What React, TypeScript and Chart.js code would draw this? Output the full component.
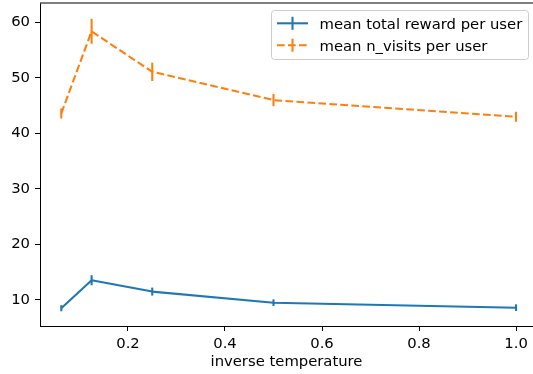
import { useEffect, useRef } from "react";
import { Chart, registerables } from "chart.js";

Chart.register(...registerables);

// ---- data ----
const inverseTemperature = [0.0625, 0.125, 0.25, 0.5, 1.0];
const rewardMean = [8.5, 13.55, 11.5, 9.5, 8.6];
const rewardErr = [0.55, 0.9, 0.72, 0.6, 0.6];
const visitsMean = [43.6, 58.4, 51.1, 46.0, 43.0];
const visitsErr = [0.9, 2.25, 1.65, 1.1, 0.9];
const xTickValues = [0.2, 0.4, 0.6, 0.8, 1.0];
const yTickValues = [10, 20, 30, 40, 50, 60];
const seriesLabels = ["mean total reward per user", "mean n_visits per user"];
const xAxisTitle = "inverse temperature";

const BLUE = "#1f77b4";
const ORANGE = "#ff7f0e";
const FONT = '"DejaVu Sans", "Liberation Sans", sans-serif';
const FONT_SIZE = 14.8;
const LINE_W = 2.08;
const DASH = [7.7, 3.3];

const errorBarPlugin = {
  id: "errorBars",
  afterDatasetsDraw(chart: any) {
    const ctx = chart.ctx;
    const xs = chart.scales.x;
    const ys = chart.scales.y;
    chart.data.datasets.forEach((ds: any) => {
      const errs: number[] = ds.errors || [];
      ctx.save();
      ctx.strokeStyle = ds.borderColor;
      ctx.lineWidth = LINE_W;
      ctx.setLineDash([]);
      ds.data.forEach((p: any, i: number) => {
        const e = errs[i] || 0;
        const px = xs.getPixelForValue(p.x);
        ctx.beginPath();
        ctx.moveTo(px, ys.getPixelForValue(p.y - e));
        ctx.lineTo(px, ys.getPixelForValue(p.y + e));
        ctx.stroke();
      });
      ctx.restore();
    });
  },
};

const framePlugin = {
  id: "frameAndLegend",
  afterDraw(chart: any) {
    const ctx = chart.ctx;
    const area = chart.chartArea;
    ctx.save();
    // top spine (partially cropped in reference)
    ctx.strokeStyle = "#555";
    ctx.lineWidth = 1.6;
    ctx.beginPath();
    ctx.moveTo(area.left, area.top);
    ctx.lineTo(area.right, area.top);
    ctx.stroke();

    // legend box
    const bx = 271.5, by = 10.5, bw = 257, bh = 49, r = 3;
    ctx.beginPath();
    ctx.moveTo(bx + r, by);
    ctx.lineTo(bx + bw - r, by);
    ctx.arcTo(bx + bw, by, bx + bw, by + r, r);
    ctx.lineTo(bx + bw, by + bh - r);
    ctx.arcTo(bx + bw, by + bh, bx + bw - r, by + bh, r);
    ctx.lineTo(bx + r, by + bh);
    ctx.arcTo(bx, by + bh, bx, by + bh - r, r);
    ctx.lineTo(bx, by + r);
    ctx.arcTo(bx, by, bx + r, by, r);
    ctx.closePath();
    ctx.fillStyle = "rgba(255,255,255,0.8)";
    ctx.fill();
    ctx.strokeStyle = "#cccccc";
    ctx.lineWidth = 1;
    ctx.stroke();

    const rows = [23.3, 45.2];
    const hx0 = 277, hx1 = 308;
    chart.data.datasets.forEach((ds: any, i: number) => {
      const y = rows[i];
      ctx.strokeStyle = ds.borderColor;
      ctx.lineWidth = LINE_W;
      ctx.setLineDash(ds.borderDash || []);
      ctx.beginPath();
      ctx.moveTo(hx0, y);
      ctx.lineTo(hx1, y);
      ctx.stroke();
      ctx.setLineDash([]);
      ctx.beginPath();
      const cx = (hx0 + hx1) / 2;
      ctx.moveTo(cx, y - 6.5);
      ctx.lineTo(cx, y + 6.5);
      ctx.stroke();
      ctx.fillStyle = "#000";
      ctx.font = `${FONT_SIZE}px ${FONT}`;
      ctx.textBaseline = "alphabetic";
      ctx.textAlign = "left";
      ctx.fillText(ds.label, 319.5, y + 5.5);
    });
    ctx.restore();
  },
};

export default function App() {
  const canvasRef = useRef<HTMLCanvasElement | null>(null);

  useEffect(() => {
    if (!canvasRef.current) return;
    const chart = new Chart(canvasRef.current, {
      type: "line",
      data: {
        datasets: [
          {
            label: seriesLabels[0],
            data: inverseTemperature.map((x, i) => ({ x, y: rewardMean[i] })),
            errors: rewardErr,
            borderColor: BLUE,
            backgroundColor: BLUE,
            borderWidth: LINE_W,
            borderJoinStyle: "round",
            pointRadius: 0,
            tension: 0,
            fill: false,
          } as any,
          {
            label: seriesLabels[1],
            data: inverseTemperature.map((x, i) => ({ x, y: visitsMean[i] })),
            errors: visitsErr,
            borderColor: ORANGE,
            backgroundColor: ORANGE,
            borderWidth: LINE_W,
            borderDash: DASH,
            borderJoinStyle: "round",
            pointRadius: 0,
            tension: 0,
            fill: false,
          } as any,
        ],
      },
      options: {
        animation: false,
        responsive: false,
        maintainAspectRatio: false,
        layout: { padding: { top: 3, left: 0, right: 0, bottom: 0 } },
        plugins: {
          legend: { display: false },
          tooltip: { enabled: false },
        },
        scales: {
          x: {
            type: "linear",
            min: 0.0186,
            max: 1.035,
            afterFit: (s: any) => {
              s.height = 48;
              s.paddingLeft = 0;
              s.paddingRight = 0;
            },
            afterBuildTicks: (s: any) => {
              s.ticks = xTickValues.map((v) => ({ value: v }));
            },
            ticks: {
              color: "#000",
              font: { family: FONT, size: FONT_SIZE },
              padding: 4,
              maxRotation: 0,
              autoSkip: false,
              callback: (v: any) => Number(v).toFixed(1),
            },
            grid: {
              display: true,
              drawOnChartArea: false,
              drawTicks: true,
              tickLength: 5,
              tickWidth: 1,
              tickColor: "#000",
            },
            border: { display: true, color: "#000", width: 1 },
            title: {
              display: true,
              text: xAxisTitle,
              color: "#000",
              font: { family: FONT, size: FONT_SIZE },
              padding: { top: 0, bottom: 3 },
            },
          },
          y: {
            type: "linear",
            min: 5.3,
            max: 63.5,
            afterFit: (s: any) => {
              s.width = 40;
              s.paddingTop = 0;
              s.paddingBottom = 0;
            },
            afterBuildTicks: (s: any) => {
              s.ticks = yTickValues.map((v) => ({ value: v }));
            },
            ticks: {
              color: "#000",
              font: { family: FONT, size: FONT_SIZE },
              padding: 5,
              autoSkip: false,
              callback: (v: any) => String(v),
            },
            grid: {
              display: true,
              drawOnChartArea: false,
              drawTicks: true,
              tickLength: 5,
              tickWidth: 1,
              tickColor: "#000",
            },
            border: { display: true, color: "#000", width: 1 },
          },
        },
      } as any,
      plugins: [errorBarPlugin, framePlugin],
    });
    return () => chart.destroy();
  }, []);

  return (
    <div style={{ position: "absolute", left: 0, top: 0, width: 533, height: 374, background: "#fff" }}>
      <canvas ref={canvasRef} width={533} height={374} style={{ display: "block" }} />
    </div>
  );
}
